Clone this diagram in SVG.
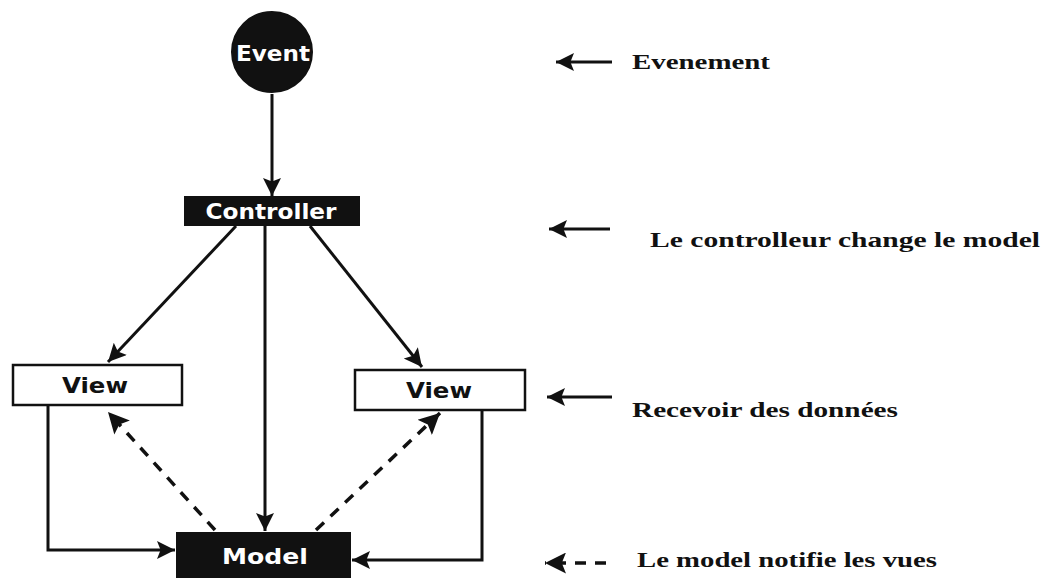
<svg xmlns="http://www.w3.org/2000/svg" width="1044" height="578" viewBox="0 0 1044 578">
<style>
.node-dark{fill:#111;stroke:#111;stroke-width:2}
.node-light{fill:#fff;stroke:#111;stroke-width:2.5}
.nt{font-family:"DejaVu Sans","Liberation Sans",sans-serif;font-weight:bold;font-size:21px;text-anchor:middle}
.w{fill:#fff}
.b{fill:#111}
.lbl{font-family:"Liberation Serif",serif;font-weight:bold;font-size:21px;fill:#111}
.ln{stroke:#111;stroke-width:3;fill:none}
.dash{stroke:#111;stroke-width:3.5;fill:none;stroke-dasharray:11 9}
</style>
<defs>
<marker id="ah" viewBox="0 0 10 10" refX="10" refY="5" markerWidth="7" markerHeight="6" markerUnits="strokeWidth" orient="auto">
<path d="M0,0 L10,5 L0,10 L2,5 z" fill="#111"/>
</marker>
</defs>
<rect width="1044" height="578" fill="#fff"/>
<g id="connectors">
<line class="ln" x1="272" y1="94" x2="272" y2="196" marker-end="url(#ah)"/>
<line class="ln" x1="236" y1="226" x2="108" y2="362" marker-end="url(#ah)"/>
<line class="ln" x1="265" y1="226" x2="265" y2="531" marker-end="url(#ah)"/>
<line class="ln" x1="310" y1="226" x2="422" y2="367" marker-end="url(#ah)"/>
<polyline class="ln" points="48,406 48,550 175,550" marker-end="url(#ah)"/>
<polyline class="ln" points="482,411 482,560 352,560" marker-end="url(#ah)"/>
<line class="dash" x1="215" y1="530" x2="108" y2="412" marker-end="url(#ah)"/>
<line class="dash" x1="316" y1="530" x2="440" y2="413" marker-end="url(#ah)"/>
<line class="ln" x1="612" y1="62" x2="556" y2="62" marker-end="url(#ah)"/>
<line class="ln" x1="610" y1="229" x2="549" y2="229" marker-end="url(#ah)"/>
<line class="ln" x1="612" y1="397" x2="547" y2="397" marker-end="url(#ah)"/>
<line class="dash" x1="606" y1="563" x2="545" y2="563" stroke-dasharray="10 10" marker-end="url(#ah)"/>
</g>
<g id="event">
<circle class="node-dark" cx="272" cy="52" r="40"/>
<text class="nt w" x="273" y="61" font-size="24" textLength="74" lengthAdjust="spacingAndGlyphs">Event</text>
</g>
<g id="controller">
<rect class="node-dark" x="185" y="197" width="174" height="28"/>
<text class="nt w" x="271" y="219" textLength="131" lengthAdjust="spacingAndGlyphs">Controller</text>
</g>
<g id="view-left">
<rect class="node-light" x="13" y="365" width="169" height="40"/>
<text class="nt b" x="95" y="393" textLength="66" lengthAdjust="spacingAndGlyphs">View</text>
</g>
<g id="view-right">
<rect class="node-light" x="355" y="370" width="170" height="40"/>
<text class="nt b" x="439" y="398" textLength="66" lengthAdjust="spacingAndGlyphs">View</text>
</g>
<g id="model">
<rect class="node-dark" x="177" y="533" width="173" height="44"/>
<text class="nt w" x="265" y="564" textLength="86" lengthAdjust="spacingAndGlyphs">Model</text>
</g>
<g id="labels">
<text class="lbl" x="632" y="69" textLength="138" lengthAdjust="spacingAndGlyphs">Evenement</text>
<text class="lbl" x="650" y="247" textLength="390" lengthAdjust="spacingAndGlyphs">Le controlleur change le model</text>
<text class="lbl" x="632" y="417" textLength="266" lengthAdjust="spacingAndGlyphs">Recevoir des données</text>
<text class="lbl" x="637" y="567" textLength="300" lengthAdjust="spacingAndGlyphs">Le model notifie les vues</text>
</g>
</svg>
